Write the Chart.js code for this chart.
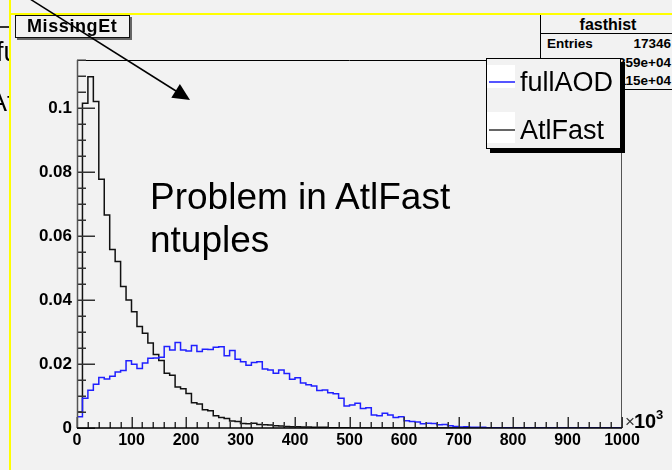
<!DOCTYPE html>
<html lang="en">
<head>
  <meta charset="UTF-8" />
  <title>MissingEt</title>
  <script src="https://cdn.jsdelivr.net/npm/chart.js"></script>
  <style>
    html, body { margin: 0; padding: 0; background: #f2f2f2; }
    #wrap { position: relative; width: 672px; height: 470px; overflow: hidden;
            font-family: "Liberation Sans", Arial, sans-serif; color: #000; }
    #c { position: absolute; left: 0; top: 0; }
    .abs { position: absolute; white-space: nowrap; }
    #title { left: 15px; top: 15px; width: 113px; height: 21px; border: 1.5px solid #111;
             box-shadow: 2px 2px 0 #666; background: #f2f2f2; }
    #title span { position: absolute; left: 11px; top: 0; line-height: 21px; font-weight: bold;
                  font-size: 18px; letter-spacing: 0.6px; }
    #stats { left: 540px; top: 14px; width: 150px; height: 74px; border: 1.5px solid #000; background: #f2f2f2; }
    #stats .hd { position: absolute; left: 0; top: 0; width: 134px; height: 18px; border-bottom: 1px solid #000;
                 text-align: center; font-weight: bold; font-size: 16px; line-height: 20px; }
    #stats .row { position: absolute; left: 6px; width: 124px; font-weight: bold; font-size: 13.5px; line-height: 16px; }
    #stats .row b { position: absolute; right: 0; }
    #legend { left: 486px; top: 58px; width: 133px; height: 89px; border: 1.5px solid #000;
              box-shadow: 4px 4px 0 #000; background: #f2f2f2; }
    .sample { position: absolute; left: 0; width: 28px; background: #fff; }
    .sample i { position: absolute; left: 2px; right: 0; height: 1.5px; }
    .ltxt { position: absolute; left: 33px; font-size: 27px; line-height: 30px; }
    #note { left: 150px; top: 175px; font-size: 37px; line-height: 43px; }
    #yellowH { left: 10px; top: 13px; width: 662px; height: 2px; background: #ffff00; }
    #yellowV { left: 9px; top: 0; width: 2px; height: 470px; background: #ffff00; }
    #clip { left: 0; top: 0; width: 9px; height: 470px; overflow: hidden; }
  </style>
</head>
<body>
<div id="wrap">
  <canvas id="c" width="672" height="470"></canvas>

  <div id="clip" class="abs">
    <div class="abs" style="left:0;top:26px;width:9px;height:1.5px;background:#333"></div>
    <div class="abs" style="left:-4px;top:37px;font-size:27px;line-height:30px">fullAOD</div>
    <div class="abs" style="left:-11px;top:87px;font-size:27px;line-height:30px">AtlFast</div>
  </div>

  <div id="stats" class="abs">
    <div class="hd">fasthist</div>
    <div class="row" style="top:21px">Entries<b>17346</b></div>
    <div class="row" style="top:40px">Mean<b>3.359e+04</b></div>
    <div class="row" style="top:58px">RMS<b>2.115e+04</b></div>
  </div>

  <div id="legend" class="abs"></div>

  <div id="title" class="abs"><span>MissingEt</span></div>

  <div id="note" class="abs">Problem in AtlFast<br>ntuples</div>

  <span class="abs" style="left:625px;top:413px;font-size:17px;line-height:17px;color:#333">×</span>
  <span class="abs" style="left:634px;top:411px;font-size:20px;line-height:20px;font-weight:bold">10</span>
  <span class="abs" style="left:656px;top:408px;font-size:13px;line-height:13px;font-weight:bold">3</span>

  <div id="yellowH" class="abs"></div>
  <div id="yellowV" class="abs"></div>

  <svg class="abs" style="left:0;top:0" width="672" height="470">
    <line x1="30" y1="-1" x2="176" y2="91" stroke="#000" stroke-width="1.5" />
    <polygon points="190,100 171.3,97.7 179.9,84.1" fill="#000" />
  </svg>
</div>

<script>
  // histogramme : 100 bins de 10 (x 10^3), 0 -> 1000
  const binWidth = 10;
  const seriesNames = ["fullAOD", "AtlFast"];
  const seriesColors = ["#2020ff", "#111111"];
  const xTicks = [0, 100, 200, 300, 400, 500, 600, 700, 800, 900, 1000];
  const yTicks = [0, 0.02, 0.04, 0.06, 0.08, 0.1];
  const yTickLabels = ["0", "0.02", "0.04", "0.06", "0.08", "0.1"];

  const fullAOD = [
    0.0035, 0.0093, 0.0118, 0.0137, 0.0158, 0.0153, 0.0162, 0.0175, 0.0180, 0.0210,
    0.0199, 0.0186, 0.0203, 0.0218, 0.0219, 0.0221, 0.0255, 0.0244, 0.0267, 0.0244,
    0.0241, 0.0258, 0.0239, 0.0246, 0.0245, 0.0252, 0.0254, 0.0226, 0.0242, 0.0215,
    0.0207, 0.0196, 0.0205, 0.0207, 0.0184, 0.0181, 0.0171, 0.0181, 0.0170, 0.0152,
    0.0157, 0.0141, 0.0135, 0.0131, 0.0117, 0.0119, 0.0110, 0.0107, 0.0093, 0.0069,
    0.0072, 0.0077, 0.0061, 0.0063, 0.0041, 0.0038, 0.0046, 0.0041, 0.0033, 0.0035,
    0.0023, 0.0020, 0.0019, 0.0013, 0.0015, 0.0014, 0.0010, 0.0011, 0.0007, 0.0005,
    0.0003, 0.0004, 0.0002, 0.0002, 0.0002, 0.0001, 0.0001, 0.0001, 0.0001, 0.0001,
    0, 0, 0, 0, 0, 0, 0, 0, 0, 0,
    0, 0, 0, 0, 0, 0, 0, 0, 0, 0
  ];

  const atlFast = [
    0.0050, 0.1015, 0.1098, 0.1020, 0.0777, 0.0666, 0.0558, 0.0520, 0.0442, 0.0400,
    0.0363, 0.0317, 0.0296, 0.0266, 0.0230, 0.0211, 0.0171, 0.0165, 0.0128, 0.0123,
    0.0108, 0.0079, 0.0075, 0.0057, 0.0054, 0.0038, 0.0033, 0.0030, 0.0022, 0.0020,
    0.0014, 0.0013, 0.0015, 0.0011, 0.0010, 0.0009, 0.0007, 0.0006, 0.0005, 0.0004,
    0.0004, 0.0003, 0.0003, 0.0002, 0.0002, 0.0002, 0.0001, 0.0001, 0.0001, 0.0001,
    0, 0, 0, 0, 0, 0, 0, 0, 0, 0,
    0, 0, 0, 0, 0, 0, 0, 0, 0, 0,
    0, 0, 0, 0, 0, 0, 0.0001, 0.0001, 0, 0,
    0, 0, 0, 0, 0, 0, 0, 0, 0, 0,
    0, 0, 0, 0, 0, 0, 0, 0, 0, 0
  ];

  // contour en escalier comme ROOT
  function contour(vals) {
    const pts = [{ x: 0, y: 0 }];
    vals.forEach((v, i) => {
      pts.push({ x: i * binWidth, y: v });
      pts.push({ x: (i + 1) * binWidth, y: v });
    });
    return pts;
  }

  // legende façon TLegend
  const legend = document.getElementById("legend");
  seriesNames.forEach((name, i) => {
    const top = i === 0 ? 6 : 53;
    legend.insertAdjacentHTML("beforeend",
      '<div class="sample" style="top:' + top + 'px;height:' + (i === 0 ? 23 : 31) + 'px">' +
      '<i style="top:' + (i === 0 ? 16 : 17) + 'px;background:' + (i === 0 ? "#5555ff" : "#666") + '"></i></div>' +
      '<div class="ltxt" style="top:' + (i === 0 ? 8 : 56) + 'px">' + name + '</div>');
  });

  const tickFont = { family: "Liberation Sans", weight: "bold", size: 17 };

  // ticks vers l'intérieur + cadre
  const rootFrame = {
    id: "rootFrame",
    afterDatasetsDraw(chart) {
      const { ctx, chartArea: a, scales: { x, y } } = chart;
      ctx.save();
      ctx.strokeStyle = "#000";
      ctx.lineWidth = 1;
      ctx.beginPath();
      ctx.moveTo(a.left, a.top + 0.5); ctx.lineTo(a.right, a.top + 0.5);
      ctx.stroke();
      ctx.strokeStyle = "#555";
      ctx.beginPath();
      ctx.moveTo(a.right - 0.5, a.top); ctx.lineTo(a.right - 0.5, a.bottom);
      ctx.stroke();

      ctx.lineWidth = 1.5;
      ctx.strokeStyle = "#333";
      for (let i = 0; i * 0.005 <= y.max + 1e-9; i++) {
        const py = Math.round(y.getPixelForValue(i * 0.005)) + 0.25;
        const len = i % 4 === 0 ? 18 : 9;
        ctx.beginPath(); ctx.moveTo(a.left, py); ctx.lineTo(a.left + len, py); ctx.stroke();
      }
      for (let i = 0; i * 20 <= x.max; i++) {
        const px = Math.round(x.getPixelForValue(i * 20)) + 0.25;
        const len = i % 5 === 0 ? 11 : 6;
        ctx.beginPath(); ctx.moveTo(px, a.bottom); ctx.lineTo(px, a.bottom - len); ctx.stroke();
      }
      ctx.strokeStyle = "#555";
      ctx.beginPath(); ctx.moveTo(a.left + 0.5, a.top); ctx.lineTo(a.left + 0.5, a.bottom); ctx.stroke();
      ctx.strokeStyle = "#000";
      ctx.beginPath(); ctx.moveTo(a.left, a.bottom); ctx.lineTo(a.right, a.bottom); ctx.stroke();
      ctx.restore();
    }
  };

  new Chart(document.getElementById("c"), {
    type: "line",
    data: {
      datasets: [
        { label: seriesNames[0], data: contour(fullAOD), borderColor: seriesColors[0] },
        { label: seriesNames[1], data: contour(atlFast), borderColor: seriesColors[1] }
      ]
    },
    options: {
      responsive: false,
      animation: false,
      devicePixelRatio: 1,
      layout: { padding: { left: 0, top: 60, right: 50, bottom: 0 } },
      elements: {
        line: { borderWidth: 1.5, tension: 0, fill: false },
        point: { radius: 0 }
      },
      plugins: { legend: { display: false }, tooltip: { enabled: false } },
      scales: {
        x: {
          type: "linear", min: 0, max: 1000,
          grid: { display: false, drawTicks: false },
          border: { display: false },
          afterFit: s => { s.height = 42; },
          afterBuildTicks: s => { s.ticks = xTicks.map(v => ({ value: v })); },
          ticks: { font: { family: "Liberation Sans", weight: "bold", size: 16 }, color: "#000",
                   padding: 3, maxRotation: 0, autoSkip: false, callback: v => String(v) }
        },
        y: {
          min: 0, max: 0.115,
          grid: { display: false, drawTicks: false },
          border: { display: false },
          afterFit: s => { s.width = 77; },
          afterBuildTicks: s => { s.ticks = yTicks.map(v => ({ value: v })); },
          ticks: { font: tickFont, color: "#000", padding: 5, autoSkip: false,
                   callback: v => yTickLabels[yTicks.indexOf(v)] }
        }
      }
    },
    plugins: [rootFrame]
  });
</script>
</body>
</html>
